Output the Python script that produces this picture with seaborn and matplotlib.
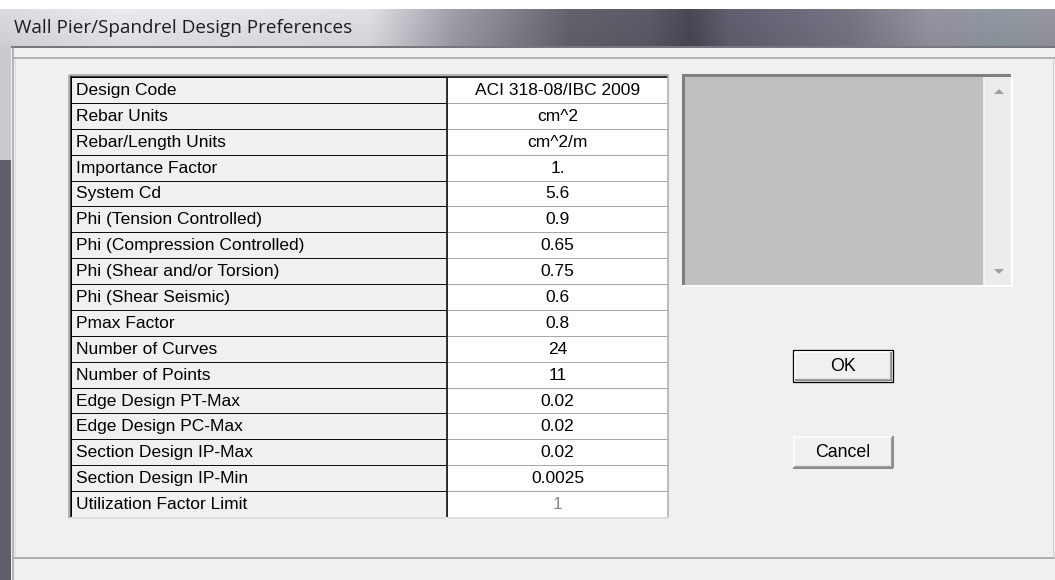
import numpy as np
import matplotlib
matplotlib.use("Agg")
import matplotlib.pyplot as plt
from matplotlib.colors import ListedColormap
from matplotlib.patches import Rectangle, Polygon
from matplotlib import font_manager
import seaborn as sns

# dialog content
TITLE = "Wall Pier/Spandrel Design Preferences"
ITEMS = [
    "Design Code", "Rebar Units", "Rebar/Length Units", "Importance Factor",
    "System Cd", "Phi (Tension Controlled)", "Phi (Compression Controlled)",
    "Phi (Shear and/or Torsion)", "Phi (Shear Seismic)", "Pmax Factor",
    "Number of Curves", "Number of Points", "Edge Design PT-Max",
    "Edge Design PC-Max", "Section Design IP-Max", "Section Design IP-Min",
    "Utilization Factor Limit",
]
VALUES = [
    "ACI 318-08/IBC 2009", "cm^2", "cm^2/m", "1.", "5.6", "0.9", "0.65",
    "0.75", "0.6", "0.8", "24", "11", "0.02", "0.02", "0.02", "0.0025", "1",
]
BUTTONS = ["OK", "Cancel"]

W, H = 1055, 580
BG = "#f0f0f0"

sns.set_theme(style="white")


def pick_font(names):
    for n in names:
        try:
            font_manager.findfont(n, fallback_to_default=False)
            return n
        except Exception:
            pass
    return "DejaVu Sans"


UI_FONT = pick_font(["Liberation Sans Narrow", "Liberation Sans", "Arimo"])
TITLE_FONT = pick_font(["Open Sans", "Noto Sans", "Lato"])
plt.rcParams["font.family"] = [UI_FONT, "DejaVu Sans"]

fig = plt.figure(figsize=(W / 100, H / 100), dpi=100, facecolor="white")


def pixel_axes(z):
    a = fig.add_axes([0, 0, 1, 1], zorder=z)
    a.set_xlim(0, W)
    a.set_ylim(H, 0)
    a.axis("off")
    a.patch.set_alpha(0)
    return a


ax = pixel_axes(0)
PX = 0.72  # one pixel in points


def hline(a, y, x0, x1, color, lw=1):
    a.plot([x0, x1], [y, y], color=color, lw=lw * PX, solid_capstyle="butt")


def vline(a, x, y0, y1, color, lw=1):
    a.plot([x, x], [y0, y1], color=color, lw=lw * PX, solid_capstyle="butt")


# window chrome -------------------------------------------------------
ax.add_patch(Rectangle((0, 9), W, H - 9, color=BG, lw=0))

stops_x = [0, 120, 370, 450, 570, 650, 690, 730, 850, 930, 1000, 1055]
stops_c = np.array([
    (0.84, 0.84, 0.86), (0.90, 0.90, 0.92), (0.86, 0.86, 0.88),
    (0.62, 0.62, 0.66), (0.38, 0.38, 0.42), (0.35, 0.35, 0.40),
    (0.28, 0.28, 0.33), (0.37, 0.37, 0.43), (0.46, 0.45, 0.51),
    (0.58, 0.57, 0.62), (0.55, 0.59, 0.62), (0.58, 0.58, 0.62),
])
xs = np.arange(W)
row = np.stack([np.interp(xs, stops_x, stops_c[:, k]) for k in range(3)], axis=-1)
shade = np.linspace(1.02, 0.96, 37)[:, None, None]
grad = np.clip(row[None, :, :] * shade, 0, 1)
ax.imshow(grad, extent=[0, W, 46, 9], aspect="auto", zorder=1)

ax.text(14, 28, TITLE, fontsize=13.6, family=[TITLE_FONT, "DejaVu Sans"],
        color="#1c1c22", va="center", ha="left", zorder=3)

# left window frame
ax.add_patch(Rectangle((0, 46), 11, 115, color="#c9c9ce", lw=0, zorder=2))
ax.add_patch(Rectangle((0, 160), 11, H - 160, color="#5f5e6a", lw=0, zorder=2))

hline(ax, 46.5, 11, W, "#4e4e58", 1.5)
hline(ax, 58, 13, W, "#a0a0a0", 1.5)
vline(ax, 12.5, 47, H, "#a0a0a0", 1.5)
vline(ax, 15, 59, 557, "#dcdcdc", 1)
hline(ax, 558, 13, W, "#b0b0b0", 2)
vline(ax, 1053, 59, 558, "#d0d0d0", 1)

# table ---------------------------------------------------------------
T_LEFT, T_MID, T_RIGHT = 71, 447, 668
T_TOP, T_BOT = 77, 517
n = len(ITEMS)


def fig_box(x0, y0, x1, y1):
    return [x0 / W, 1 - y1 / H, (x1 - x0) / W, (y1 - y0) / H]


ax_l = fig.add_axes(fig_box(T_LEFT, T_TOP, T_MID, T_BOT), zorder=1)
sns.heatmap(np.zeros((n, 1)), ax=ax_l, cmap=ListedColormap([BG]), cbar=False,
            vmin=0, vmax=1, linewidths=1.0 * PX, linecolor="#101010")
ax_l.set_xticks([])
ax_l.set_yticks([])
for i, lab in enumerate(ITEMS):
    ax_l.text(5 / (T_MID - T_LEFT), i + 0.52, lab, ha="left", va="center",
              fontsize=12.5, color="#000000")

ax_r = fig.add_axes(fig_box(T_MID, T_TOP, T_RIGHT, T_BOT), zorder=1)
sns.heatmap(np.zeros((n, 1)), ax=ax_r, cmap=ListedColormap(["#ffffff"]),
            cbar=False, vmin=0, vmax=1, linewidths=1.0 * PX,
            linecolor="#a8a8a8", annot=np.array(VALUES).reshape(-1, 1),
            fmt="", annot_kws={"fontsize": 12.5, "color": "#000000"})
ax_r.set_xticks([])
ax_r.set_yticks([])
for t in ax_r.texts:
    t.set_y(t.get_position()[1] + 0.02)
ax_r.texts[-1].set_color("#8a8a8a")

# table frame drawn over the cells
top = pixel_axes(2)
hline(top, 517.5, 69, T_RIGHT + 1, "#dedede", 2)
vline(top, 69, 75, 518, "#a0a0a0", 1.5)
vline(top, 71, 76, 517, "#000000", 1.5)
hline(top, 75, 69, T_RIGHT + 1, "#a0a0a0", 1.5)
hline(top, 77, 71, T_RIGHT, "#000000", 1.5)
vline(top, T_MID, 77, 517, "#000000", 1.5)
vline(top, T_RIGHT, 76, 517, "#a8a8a8", 1.5)

# preview box ---------------------------------------------------------
ax.add_patch(Rectangle((682, 74), 331, 213, facecolor="#ffffff", lw=0))
ax.add_patch(Rectangle((682, 74), 329, 211, facecolor="#808080", lw=0))
ax.add_patch(Rectangle((685, 77), 298, 208, facecolor="#c0c0c0", lw=0))
ax.add_patch(Rectangle((983, 77), 28, 208, facecolor="#ececec", lw=0))
vline(ax, 983.5, 77, 285, "#f6f6f6", 1)
ax.add_patch(Polygon([(994, 94), (1004, 94), (999, 89)], closed=True,
                     facecolor="#a0a0a0", lw=0))
ax.add_patch(Polygon([(994, 269), (1004, 269), (999, 274)], closed=True,
                     facecolor="#a0a0a0", lw=0))

# buttons -------------------------------------------------------------
BTN_X0, BTN_X1 = 793, 893
btn_y = [(350, 382), (436, 468)]
for k, (label, (y0, y1)) in enumerate(zip(BUTTONS, btn_y)):
    ax.add_patch(Rectangle((BTN_X0, y0), BTN_X1 - BTN_X0, y1 - y0,
                           facecolor=BG, lw=0))
    if k == 0:
        ax.add_patch(Rectangle((BTN_X0, y0), BTN_X1 - BTN_X0, y1 - y0,
                               facecolor="none", edgecolor="#000000",
                               lw=1.3 * PX))
        o = 1.5
    else:
        o = 0
    hline(ax, y0 + o + 0.5, BTN_X0 + o, BTN_X1 - o, "#ffffff", 1.5)
    vline(ax, BTN_X0 + o + 0.5, y0 + o, y1 - o, "#ffffff", 1.5)
    hline(ax, y1 - o - 0.5, BTN_X0 + o, BTN_X1 - o, "#696969", 1.5)
    vline(ax, BTN_X1 - o - 0.5, y0 + o, y1 - o, "#696969", 1.5)
    hline(ax, y1 - o - 2, BTN_X0 + o + 1, BTN_X1 - o - 1, "#a0a0a0", 1.2)
    vline(ax, BTN_X1 - o - 2, y0 + o + 1, y1 - o - 1, "#a0a0a0", 1.2)
    ax.text((BTN_X0 + BTN_X1) / 2, (y0 + y1) / 2 + 0.5, label, ha="center",
            va="center", fontsize=12.8, color="#000000")

fig.savefig("out.png", dpi=100, facecolor="white")
